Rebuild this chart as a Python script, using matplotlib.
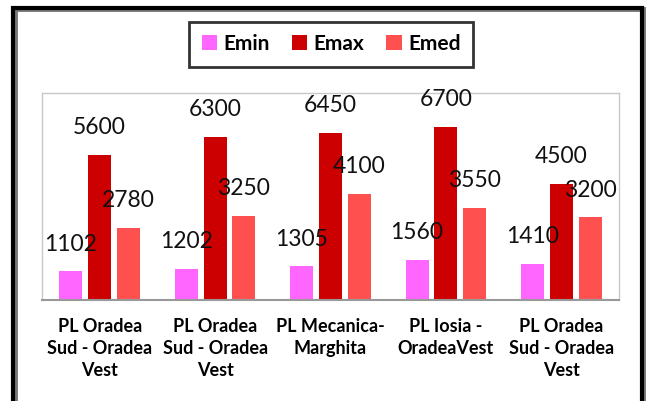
import matplotlib
matplotlib.use("Agg")
import matplotlib.pyplot as plt
from matplotlib.patches import Rectangle
import numpy as np

categories = ["PL Oradea\nSud - Oradea\nVest",
              "PL Oradea\nSud - Oradea\nVest",
              "PL Mecanica-\nMarghita",
              "PL Iosia -\nOradeaVest",
              "PL Oradea\nSud - Oradea\nVest"]
series_names = ["Emin", "Emax", "Emed"]
emin = [1102, 1202, 1305, 1560, 1410]
emax = [5600, 6300, 6450, 6700, 4500]
emed = [2780, 3250, 4100, 3550, 3200]
colors = ["#FF66FF", "#CC0000", "#FF5050"]

W, H = 646, 401
fig = plt.figure(figsize=(W/100, H/100), dpi=100)
ax = fig.add_axes([42/W, 1-300/H, (619-42)/W, (300-93)/H])

x = np.arange(len(categories))
width = 0.2
offsets = [-0.25, 0.0, 0.25]
handles = []
for vals, off, col, name in zip([emin, emax, emed], offsets, colors, series_names):
    bars = ax.bar(x + off, vals, width, color=col, label=name, zorder=2)
    handles.append(bars)
    for b, v in zip(bars, vals):
        ax.annotate(str(v), (b.get_x() + b.get_width()/2, v),
                    xytext=(0, 12), textcoords="offset points",
                    ha="center", va="bottom", fontsize=16.5,
                    family="Lato", color="#111111")

ax.set_xlim(-0.5, len(categories) - 0.5)
ax.set_ylim(0, 8000)
ax.set_yticks([])
ax.set_xticks(x)
ax.set_xticklabels(categories, fontsize=13, fontweight="bold", family="Lato",
                   linespacing=1.35, va="top")
ax.tick_params(axis="x", length=0, pad=13)
for s in ["left", "top", "right"]:
    ax.spines[s].set_color("#C8C8C8")
    ax.spines[s].set_linewidth(1.0)
ax.spines["bottom"].set_color("#999999")
ax.spines["bottom"].set_linewidth(1.5)

leg = fig.legend(handles=handles, labels=series_names, loc="center",
                 bbox_to_anchor=(331/W, 1-44/H), ncol=3, frameon=True,
                 fancybox=False, edgecolor="black", handlelength=0.75,
                 handleheight=0.75, handletextpad=0.3, columnspacing=1.05,
                 borderpad=0.6, prop={"family": "Lato", "weight": "bold", "size": 15})
leg.get_frame().set_linewidth(2.0)

# outer frame with shadow
fig.patches.append(Rectangle((15/W, -0.05), (643-15)/W, 1.05 - 9/H, transform=fig.transFigure,
                             fill=False, edgecolor="#777777", linewidth=3.5, zorder=0))
fig.patches.append(Rectangle((13/W, -0.05), (642-13)/W, 1.05 - 8/H, transform=fig.transFigure,
                             fill=False, edgecolor="black", linewidth=3.0, zorder=1))

fig.savefig("out.png", dpi=100)
